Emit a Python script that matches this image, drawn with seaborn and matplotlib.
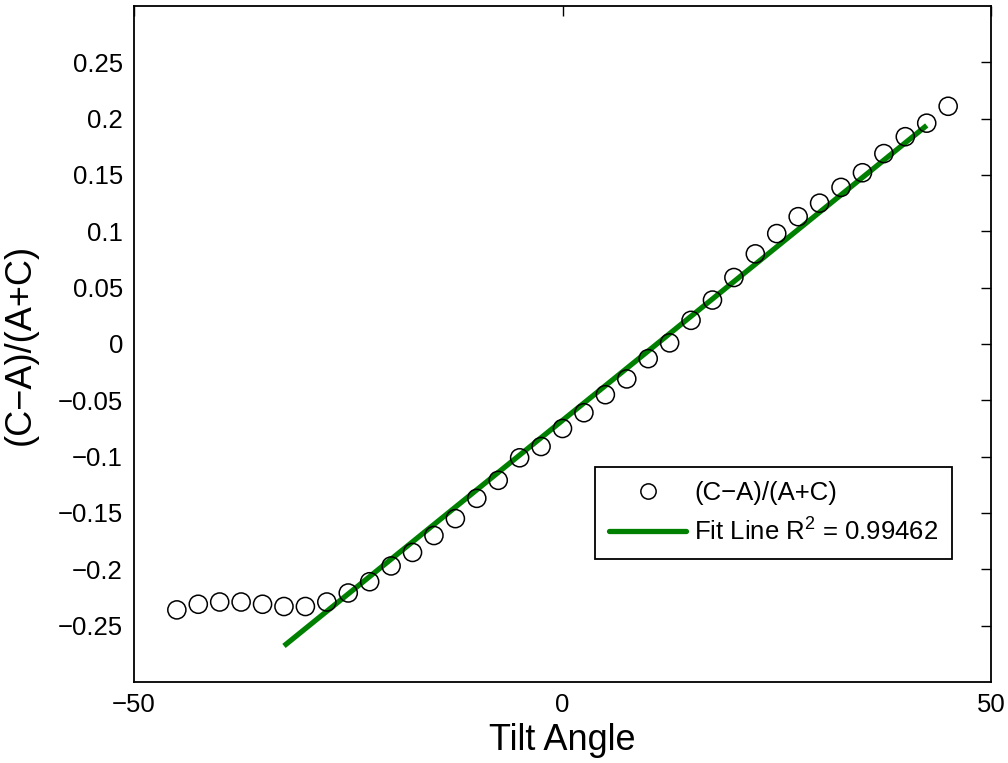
import numpy as np
import pandas as pd
import matplotlib
matplotlib.use("Agg")
import matplotlib.pyplot as plt
import seaborn as sns
from matplotlib.lines import Line2D

# ---- data ----
tilt_angle = [-45, -42.5, -40, -37.5, -35, -32.5, -30, -27.5, -25, -22.5,
              -20, -17.5, -15, -12.5, -10, -7.5, -5, -2.5, 0, 2.5,
              5, 7.5, 10, 12.5, 15, 17.5, 20, 22.5, 25, 27.5,
              30, 32.5, 35, 37.5, 40, 42.5, 45]
ratio = [-0.236, -0.231, -0.229, -0.229, -0.231, -0.233, -0.233, -0.229, -0.221, -0.211,
         -0.197, -0.185, -0.170, -0.155, -0.137, -0.121, -0.101, -0.091, -0.075, -0.061,
         -0.045, -0.031, -0.013, 0.001, 0.021, 0.039, 0.059, 0.080, 0.098, 0.113,
         0.125, 0.139, 0.152, 0.169, 0.184, 0.196, 0.211]
fit_x = [-32.5, 42.5]
fit_y = [-0.268, 0.194]
x_ticks = [-50, 0, 50]
y_ticks = [-0.25, -0.2, -0.15, -0.1, -0.05, 0, 0.05, 0.1, 0.15, 0.2, 0.25]
y_tick_labels = ["\u22120.25", "\u22120.2", "\u22120.15", "\u22120.1", "\u22120.05", "0",
                 "0.05", "0.1", "0.15", "0.2", "0.25"]
x_tick_labels = ["\u221250", "0", "50"]
r2_text = "Fit Line R$^2$ = 0.99462"
series_label = "(C\u2212A)/(A+C)"

sns.set_theme(style="white")
plt.rcParams['font.family'] = ['Liberation Sans', 'DejaVu Sans']
plt.rcParams['mathtext.fontset'] = 'custom'
plt.rcParams['mathtext.rm'] = 'Liberation Sans'
plt.rcParams['mathtext.it'] = 'Liberation Sans'

fig = plt.figure(figsize=(10.08, 7.63), dpi=100)
ax = fig.add_axes([134/1008, 1 - 682/763, (991 - 134)/1008, (682 - 6)/763])

df = pd.DataFrame({"x": tilt_angle, "y": ratio})
fit_df = pd.DataFrame({"x": fit_x, "y": fit_y})

sns.lineplot(data=fit_df, x="x", y="y", ax=ax, color="#008000", linewidth=3.8,
             solid_capstyle="butt", zorder=2)
sns.scatterplot(data=df, x="x", y="y", ax=ax, marker="o", s=170,
                facecolor="none", edgecolor="black", linewidth=1.1, zorder=3)

ax.set_xlim(-50, 50)
ax.set_ylim(-0.3, 0.3)
ax.set_xticks(x_ticks)
ax.set_xticklabels(x_tick_labels)
ax.set_yticks(y_ticks)
ax.set_yticklabels(y_tick_labels)
ax.tick_params(axis="both", direction="in", length=7, width=1.0, labelsize=18.5,
               top=True, right=True, color="black", labelcolor="black", pad=8)
for s in ax.spines.values():
    s.set_visible(True)
    s.set_color("black")
    s.set_linewidth(1.3)

ax.set_xlabel("Tilt Angle", fontsize=26, color="black", labelpad=4)
ax.set_ylabel(series_label, fontsize=26, color="black", labelpad=14)

handles = [
    Line2D([], [], linestyle="none", marker="o", markersize=11,
           markerfacecolor="none", markeredgecolor="black", markeredgewidth=1.1),
    Line2D([], [], color="#008000", linewidth=3.8),
]
leg = ax.legend(handles, [series_label, r2_text], loc="upper left",
                bbox_to_anchor=(595/1008, 1 - 467/763), bbox_transform=fig.transFigure,
                borderaxespad=0, fontsize=18.5, frameon=True, fancybox=False,
                handlelength=3.0, handletextpad=0.3, labelspacing=0.5,
                borderpad=0.55, edgecolor="black", framealpha=1)
leg.get_frame().set_linewidth(1.3)
for t in leg.get_texts():
    t.set_color("black")

fig.savefig("out.png", dpi=100)
